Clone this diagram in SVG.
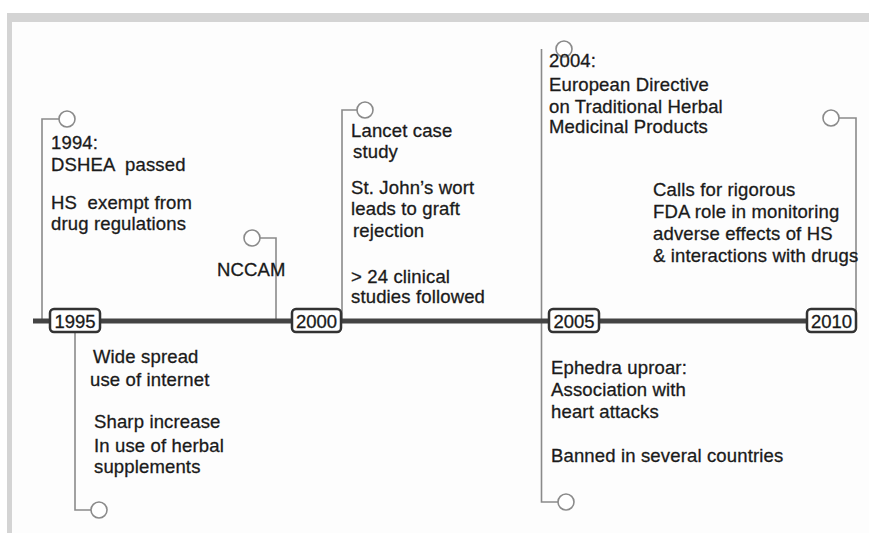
<svg xmlns="http://www.w3.org/2000/svg" width="869" height="533" viewBox="0 0 869 533">
<style>
.t{font-family:"Liberation Sans",Arial,sans-serif;font-size:18.5px;fill:#1a1a1a;stroke:#1a1a1a;stroke-width:0.3;letter-spacing:0.15px;white-space:pre}
.y{font-family:"Liberation Sans",Arial,sans-serif;font-size:18.5px;fill:#1a1a1a;stroke:#1a1a1a;stroke-width:0.3;text-anchor:middle}
.c{fill:none;stroke:#8a8a8a;stroke-width:1.6}
.o{fill:#fff;stroke:#8a8a8a;stroke-width:1.6}
.b{fill:#fff;stroke:#333;stroke-width:2.5}
</style>
<rect width="869" height="533" fill="#fff"/>
<rect x="7" y="13" width="862" height="520" fill="#d4d4d4"/>
<rect x="12" y="22" width="857" height="511" fill="#fdfdfd"/>
<g id="connectors">
<path class="c" d="M42 321V119H59"/>
<path class="c" d="M276 321V238H260"/>
<path class="c" d="M342 321V110H357"/>
<path class="c" d="M541.5 49V502H558"/>
<path class="c" d="M75 321V510H91"/>
<path class="c" d="M856 321V118H839"/>
<line x1="33" y1="321" x2="832" y2="321" stroke="#444" stroke-width="5"/>
<circle class="o" cx="67" cy="119" r="8"/>
<circle class="o" cx="252" cy="238" r="8"/>
<circle class="o" cx="365" cy="110" r="8"/>
<circle class="o" cx="564" cy="49" r="8"/>
<circle class="o" cx="566" cy="502" r="8"/>
<circle class="o" cx="99" cy="510" r="8"/>
<circle class="o" cx="831" cy="118" r="8"/>
</g>
<g id="y1995"><rect class="b" x="50" y="309" width="50" height="23" rx="4"/><text class="y" x="75" y="327.5">1995</text></g>
<g id="y2000"><rect class="b" x="292" y="309" width="49" height="23" rx="4"/><text class="y" x="316.5" y="327.5">2000</text></g>
<g id="y2005"><rect class="b" x="549" y="309" width="50" height="23" rx="4"/><text class="y" x="574" y="327.5">2005</text></g>
<g id="y2010"><rect class="b" x="807" y="309" width="49" height="23" rx="4"/><text class="y" x="831.5" y="327.5">2010</text></g>
<g id="n1994"><text class="t" x="51" y="149">1994:</text><text class="t" x="51" y="171">DSHEA  passed</text><text class="t" x="51" y="209">HS  exempt from</text><text class="t" x="51" y="230">drug regulations</text></g>
<g id="nccam"><text class="t" x="217" y="276">NCCAM</text></g>
<g id="lancet"><text class="t" x="351" y="137">Lancet case</text><text class="t" x="353" y="158">study</text><text class="t" x="351" y="194">St. John’s wort</text><text class="t" x="351" y="215">leads to graft</text><text class="t" x="353" y="237">rejection</text><text class="t" x="351" y="283">&gt; 24 clinical</text><text class="t" x="351" y="303">studies followed</text></g>
<g id="internet"><text class="t" x="93" y="363">Wide spread</text><text class="t" x="90" y="386">use of internet</text><text class="t" x="94" y="428">Sharp increase</text><text class="t" x="94" y="452">In use of herbal</text><text class="t" x="94" y="473">supplements</text></g>
<g id="n2004"><text class="t" x="549" y="67">2004:</text><text class="t" x="549" y="91">European Directive</text><text class="t" x="549" y="113">on Traditional Herbal</text><text class="t" x="549" y="133">Medicinal Products</text></g>
<g id="fda"><text class="t" x="653" y="196">Calls for rigorous</text><text class="t" x="653" y="218">FDA role in monitoring</text><text class="t" x="653" y="240">adverse effects of HS</text><text class="t" x="653" y="262">&amp; interactions with drugs</text></g>
<g id="ephedra"><text class="t" x="551" y="374">Ephedra uproar:</text><text class="t" x="551" y="396">Association with</text><text class="t" x="551" y="418">heart attacks</text><text class="t" x="551" y="462">Banned in several countries</text></g>
</svg>
